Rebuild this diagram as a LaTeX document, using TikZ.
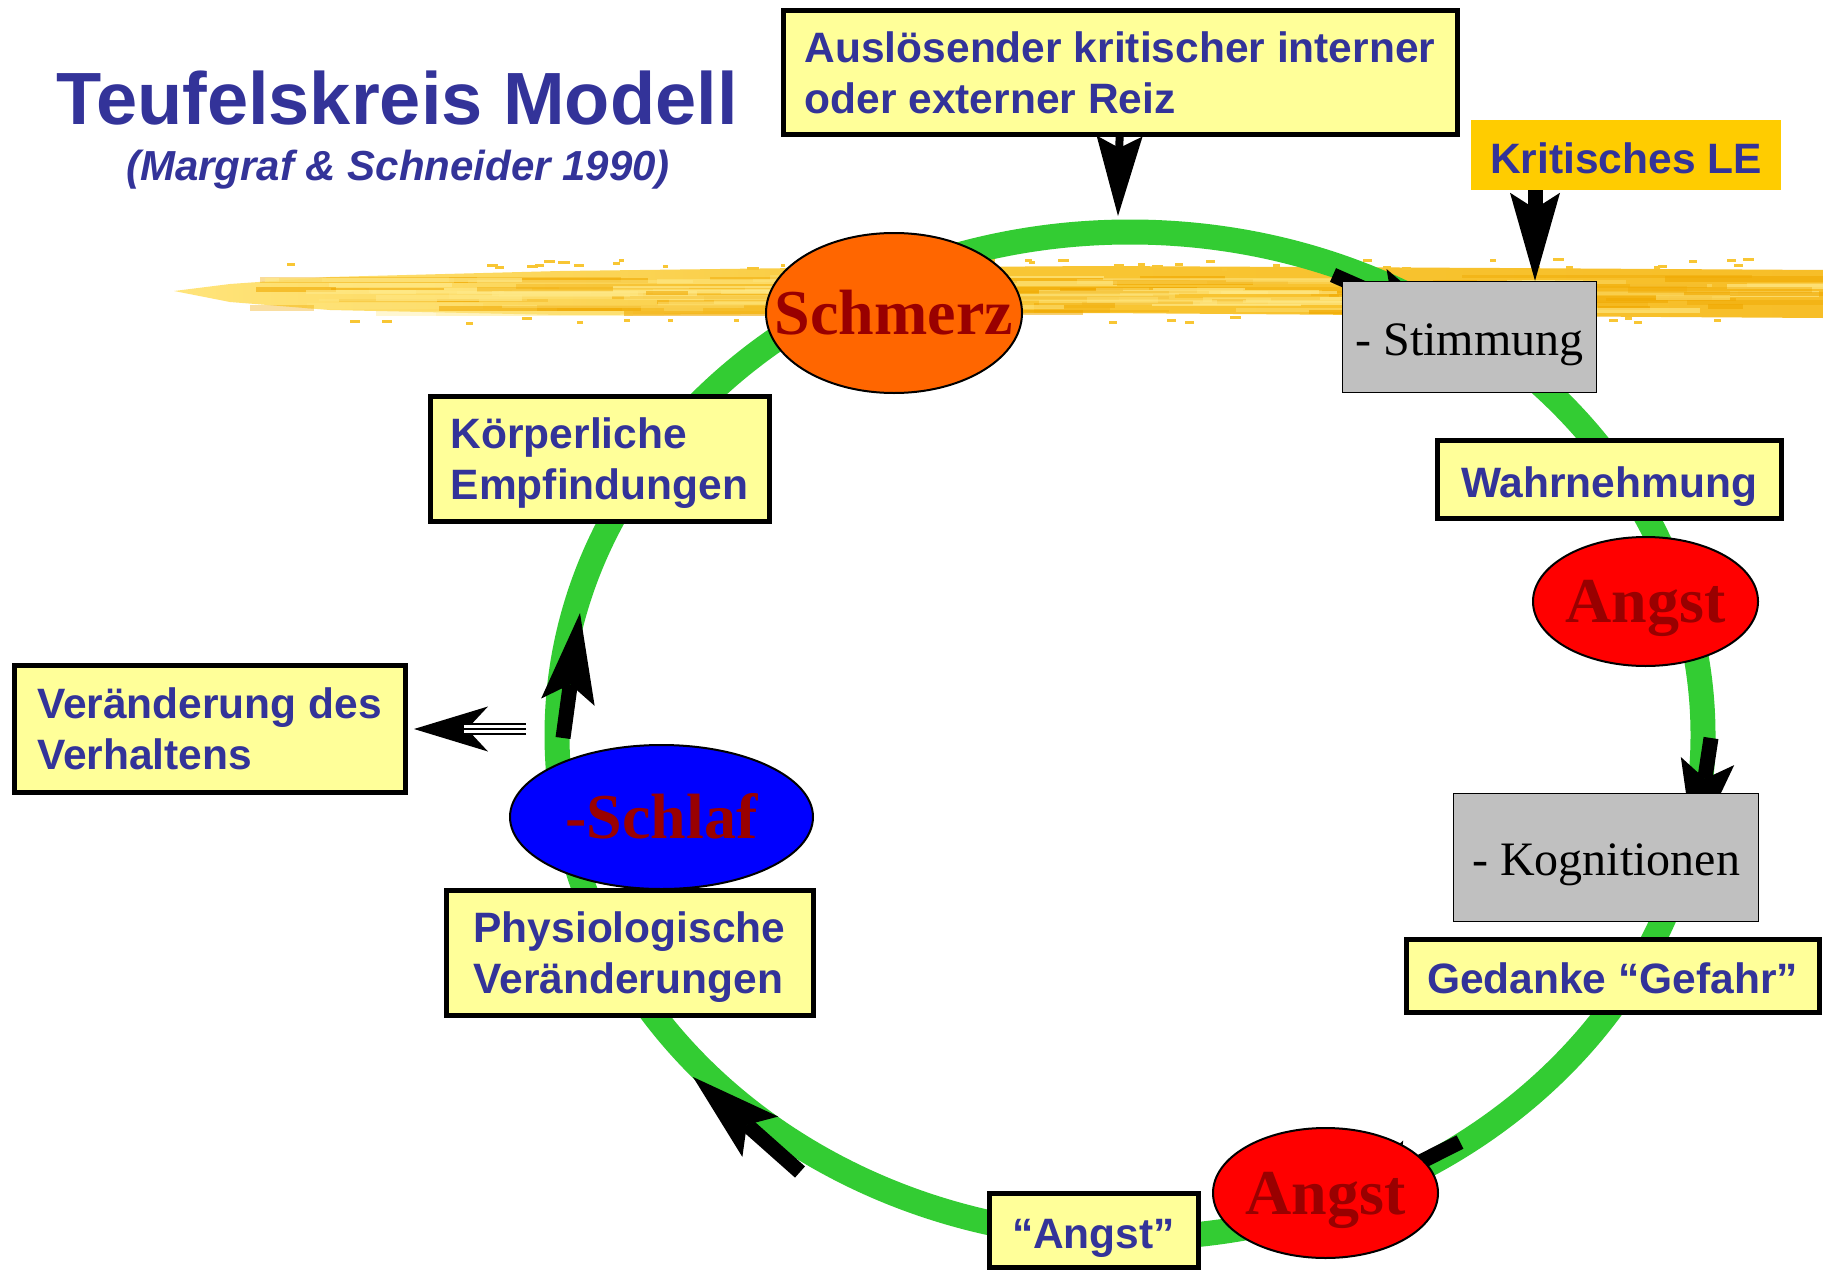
\documentclass[tikz,border=0pt]{standalone}
\usepackage{fontspec}
\setmainfont{Liberation Serif}
\newfontfamily\arial{Liberation Sans}
\usetikzlibrary{arrows.meta,shapes.geometric}
\definecolor{tblue}{HTML}{333399}
\definecolor{byel}{HTML}{FFFF99}
\definecolor{dred}{HTML}{990000}
\definecolor{sorange}{HTML}{FF6600}
\definecolor{agrey}{HTML}{C0C0C0}
\definecolor{kgold}{HTML}{FFCC00}
\definecolor{rgreen}{HTML}{33CC33}
\definecolor{brL}{HTML}{FFE47A}
\definecolor{brM}{HTML}{F8C634}
\definecolor{brR}{HTML}{F7BE28}
\definecolor{brD}{HTML}{F0A800}
\definecolor{brH}{HTML}{FFEA8A}
\pgfdeclarelayer{brushl}
\pgfdeclarelayer{ringl}
\pgfdeclarelayer{arrl}
\pgfsetlayers{brushl,ringl,arrl,main}
\newcommand{\ovaltext}[1]{\smash{\makebox[0pt]{\raisebox{-0.33em}{#1}}}}
\begin{document}
\begin{tikzpicture}[x=1pt,y=-1pt,
  ybox/.style={draw=black, line width=5pt, fill=byel, text=tblue,
    font=\arial\bfseries\fontsize{42.5}{51.5}\selectfont, align=left, inner sep=0pt},
  onel/.style={text height=36pt, text depth=0pt},
  kbox/.style={fill=kgold, text=tblue, inner sep=0pt,
    font=\arial\bfseries\fontsize{42.5}{50}\selectfont},
  gbox/.style={draw=black, line width=1.5pt, fill=agrey, inner sep=0pt,
    font=\fontsize{48}{56}\selectfont, text height=36pt, text depth=0pt},
  oval/.style={ellipse, draw=black, line width=2pt, inner sep=0pt, text=dred,
    font=\bfseries\fontsize{64}{70}\selectfont},
  ringarrow/.style={line width=15pt, -{Stealth[length=90pt,width=54pt,inset=18pt,line width=0pt]}},
]
\useasboundingbox (0,0) rectangle (1823,1271);

% ---------- nodes ----------
\node[ybox, minimum width=674pt, minimum height=124pt] (reiz) at (1120,73)
  {Auslösender kritischer interner\\oder externer Reiz};
\node[kbox, onel, minimum width=310pt, minimum height=70pt] (krit) at (1626,155) {Kritisches LE};
\node[gbox, minimum width=254pt, minimum height=111pt] (stim) at (1469.5,337) {- Stimmung};
\node[ybox, onel, minimum width=344pt, minimum height=78pt] (wahr) at (1609,479) {Wahrnehmung};
\node[oval, fill=red, minimum width=225pt, minimum height=129pt] (angstA) at (1645.5,601.5) {\ovaltext{Angst}};
\node[gbox, minimum width=305pt, minimum height=128pt] (kogn) at (1606,857.5) {- Kognitionen};
\node[ybox, onel, minimum width=413pt, minimum height=73pt] (gedanke) at (1612.5,975.5) {Gedanke “Gefahr”};
\node[ybox, onel, minimum width=209pt, minimum height=74pt] (angstq) at (1093.5,1230) {“Angst”};
\node[oval, fill=red, minimum width=225pt, minimum height=130pt] (angstB) at (1325.5,1193) {\ovaltext{Angst}};
\node[ybox, text depth=0pt, minimum width=367pt, minimum height=125pt] (physio) at (629.5,952.5)
  {Physiologische\\Veränderungen};
\node[oval, fill=blue, minimum width=303pt, minimum height=144pt] (schlaf) at (661.5,817) {\ovaltext{-Schlaf}};
\node[ybox, minimum width=391pt, minimum height=127pt] (verh) at (209.5,729)
  {Veränderung des\\Verhaltens};
\node[ybox, text depth=0pt, minimum width=339pt, minimum height=125pt] (koerp) at (599.5,458.5)
  {Körperliche\\Empfindungen};
\node[oval, fill=sorange, minimum width=256pt, minimum height=160pt] (schmerz) at (894,313) {\ovaltext{Schmerz}};

\node[anchor=base, text=tblue, font=\arial\bfseries\fontsize{74}{80}\selectfont] (title) at (397,125) {Teufelskreis Modell};
\node[anchor=base, text=tblue, font=\arial\bfseries\itshape\fontsize{42}{48}\selectfont] (sub) at (398,180) {(Margraf \& Schneider 1990)};

% ---------- brush stroke ----------
\begin{pgfonlayer}{brushl}
\fill[white] (0,0) rectangle (1823,1271);
\shade[left color=brL, right color=brR, middle color=brM]
  (174,291) -- (230,284) -- (330,277) -- (560,271) -- (800,268) -- (1100,266)
  -- (1500,268) -- (1823,270) -- (1823,318) -- (1500,316) -- (1100,313)
  -- (800,314) -- (560,315) -- (330,310) -- (230,302) -- cycle;
\pgfmathsetseed{7}
\foreach \i in {1,...,140}{
  \pgfmathsetmacro\xa{250+rnd*1500}
  \pgfmathsetmacro\ln{30+rnd*260}
  \pgfmathsetmacro\yy{274+rnd*38}
  \pgfmathsetmacro\hh{2+rnd*4}
  \pgfmathsetmacro\op{0.25+rnd*0.45}
  \pgfmathparse{rnd<0.5 ? 1 : 0}
  \ifnum\pgfmathresult=1
    \fill[brD, opacity=\op] (\xa,\yy) rectangle ++(\ln,\hh);
  \else
    \fill[brH, opacity=\op] (\xa,\yy) rectangle ++(\ln,\hh);
  \fi
}
\foreach \i in {1,...,70}{
  \pgfmathsetmacro\xa{280+rnd*1540}
  \pgfmathsetmacro\yy{rnd<0.7 ? 258+rnd*10 : 316+rnd*6}
  \fill[brM] (\xa,\yy) rectangle ++(4+rnd*8,3);
}
\end{pgfonlayer}

% ---------- ring ----------
\begin{pgfonlayer}{ringl}
\draw[rgreen, line width=25pt] (1130,735) ellipse [x radius=573pt, y radius=503pt];
\end{pgfonlayer}

% ---------- arrows ----------
\begin{pgfonlayer}{arrl}
\coordinate (reizS) at (1120,115);
\coordinate (reizT) at (1118,216);
\draw[line width=8pt, -{Stealth[length=80pt,width=46pt,inset=12pt,line width=0pt]}] (reizS) -- (reizT);

\coordinate (kritS) at (1535,172);
\draw[line width=15pt, -{Stealth[length=88pt,width=50pt,inset=16pt,line width=0pt]}] (kritS) -- (kritS |- stim.north);

\coordinate (stimS) at (1333,275);
\coordinate (stimT) at (1458,330);
\draw[ringarrow] (stimS) -- (stimT);

\coordinate (rS) at (1711,738);
\coordinate (rT) at (1694,850);
\draw[ringarrow] (rS) -- (rT);

\coordinate (lrS) at (1460,1142);
\coordinate (lrT) at (1335,1205);
\draw[ringarrow] (lrS) -- (lrT);

\coordinate (llS) at (800,1172);
\coordinate (llT) at (693,1077);
\draw[ringarrow] (llS) -- (llT);

\coordinate (luS) at (563,738);
\coordinate (luT) at (580,613);
\draw[ringarrow] (luS) -- (luT);

\coordinate (vS) at (526,729);
\coordinate (vT) at (414,729);
\draw[line width=12pt, -{Stealth[length=74pt,width=45pt,inset=21pt,line width=0pt]}] (vS) -- (vT);
\draw[white, line width=7.5pt, shorten >=50pt] (vS) -- (vT);
\draw[black, line width=2.5pt, shorten >=50pt] (vS) -- (vT);
\end{pgfonlayer}
\end{tikzpicture}
\end{document}
